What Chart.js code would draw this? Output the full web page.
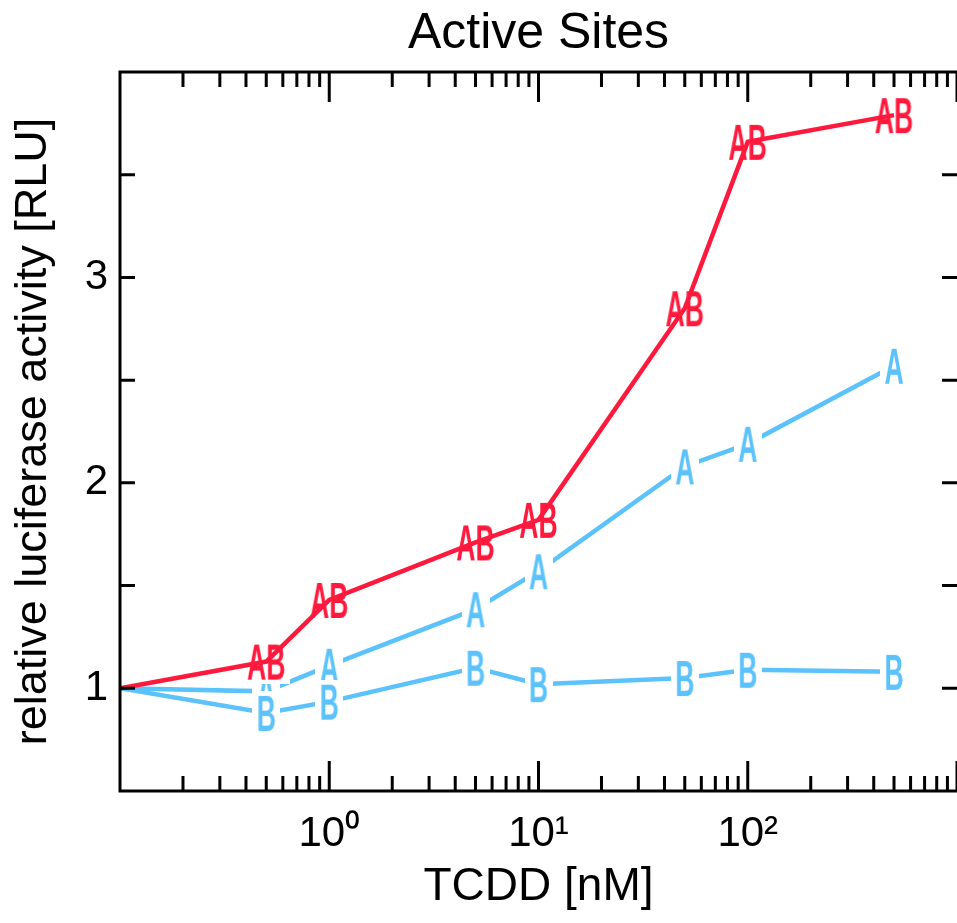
<!DOCTYPE html>
<html>
<head>
<meta charset="utf-8">
<title>Active Sites</title>
<script src="https://cdn.jsdelivr.net/npm/chart.js@4"></script>
<style>
    html, body { margin: 0; padding: 0; background: #fff; overflow: hidden; }
    #wrap { width: 957px; height: 923px; position: relative; }
    #activeChart { display: block; }
</style>
</head>
<body>
<div id="wrap"><canvas id="activeChart"></canvas></div>
<script>
// TCDD doses [nM]
var doses = [0.1, 0.5, 1, 5, 10, 50, 100, 500];
// relative luciferase activity per construct
var siteAB = [1, 1.13, 1.43, 1.71, 1.82, 2.85, 3.66, 3.79];
var siteA = [1, 0.985, 1.11, 1.385, 1.57, 2.08, 2.19, 2.57];
var siteB = [1, 0.88, 0.935, 1.10, 1.02, 1.05, 1.09, 1.08];

var xTickValues = [1, 10, 100];
var xTickLabels = ['10\u2070', '10\u00b9', '10\u00b2'];
var yTickValues = [1, 2, 3];
var yTickLabels = ['1', '2', '3'];

var red = '#ff1a3d';
var blue = '#5bc2fb';
var fontFamily = '"Liberation Sans", Arial, Helvetica, sans-serif';

function points(values) {
    return doses.map(function(d, i) {
        return { x: d, y: values[i] };
    });
}

// letter marker with a white box behind it
function makeMarker(text, color) {
    var size = 50, squeeze = 0.53, pad = 4;
    var capH = size * 0.716;
    var c = document.createElement('canvas');
    var g = c.getContext('2d');
    g.font = 'bold ' + size + 'px ' + fontFamily;
    var w = g.measureText(text).width * squeeze;
    c.width = Math.ceil(w + pad * 2);
    c.height = Math.ceil(capH + pad * 2);
    g.fillStyle = '#fff';
    g.fillRect(0, 0, c.width, c.height);
    g.font = 'bold ' + size + 'px ' + fontFamily;
    g.fillStyle = color;
    g.textAlign = 'center';
    g.textBaseline = 'alphabetic';
    g.translate(c.width / 2, pad + capH);
    g.scale(squeeze, 1);
    g.fillText(text, 0, 0);
    return c;
}

function markerRadius(ctx) {
    return ctx.dataIndex === 0 ? 0 : 8;
}

// frame and inward ticks
var framePlugin = {
    id: 'frame',
    afterDatasetsDraw: function(chart) {
        var a = chart.chartArea;
        var ctx = chart.ctx;
        var xs = chart.scales.x, ys = chart.scales.y;
        ctx.save();
        ctx.strokeStyle = '#000';
        ctx.lineWidth = 3;
        ctx.lineCap = 'butt';
        ctx.beginPath();
        ctx.moveTo(a.left, a.top);
        ctx.lineTo(a.right + 2, a.top);
        ctx.moveTo(a.left, a.top - 1.5);
        ctx.lineTo(a.left, a.bottom + 1.5);
        ctx.moveTo(a.left, a.bottom);
        ctx.lineTo(a.right + 2, a.bottom);
        ctx.moveTo(a.right + 2, a.top);
        ctx.lineTo(a.right + 2, a.bottom);

        xs.ticks.forEach(function(t) {
            var px = xs.getPixelForValue(t.value);
            var lg = Math.log10(t.value);
            var len = Math.abs(lg - Math.round(lg)) < 1e-6 ? 30 : 15;
            ctx.moveTo(px, a.bottom);
            ctx.lineTo(px, a.bottom - len);
            ctx.moveTo(px, a.top);
            ctx.lineTo(px, a.top + len);
        });
        ys.ticks.forEach(function(t) {
            var py = ys.getPixelForValue(t.value);
            ctx.moveTo(a.left, py);
            ctx.lineTo(a.left + 15, py);
            ctx.moveTo(a.right, py);
            ctx.lineTo(a.right - 15, py);
        });
        ctx.stroke();
        ctx.restore();
    }
};

var ctx = document.getElementById('activeChart').getContext('2d');
new Chart(ctx, {
    type: 'line',
    data: {
        datasets: [{
            label: 'A',
            data: points(siteA),
            borderColor: blue,
            borderWidth: 4.5,
            tension: 0,
            pointStyle: makeMarker('A', blue),
            pointRadius: markerRadius,
            order: 4
        }, {
            label: 'B',
            data: points(siteB),
            borderColor: blue,
            borderWidth: 4.5,
            tension: 0,
            pointStyle: makeMarker('B', blue),
            pointRadius: markerRadius,
            order: 3
        }, {
            label: 'AB markers',
            data: points(siteAB),
            showLine: false,
            pointStyle: makeMarker('AB', red),
            pointRadius: markerRadius,
            order: 2
        }, {
            label: 'AB',
            data: points(siteAB),
            borderColor: red,
            borderWidth: 4.5,
            tension: 0,
            pointRadius: 0,
            order: 1
        }]
    },
    options: {
        responsive: true,
        maintainAspectRatio: false,
        animation: false,
        layout: { padding: 0, autoPadding: false },
        plugins: {
            legend: { display: false },
            tooltip: { enabled: false },
            title: {
                display: true,
                fullSize: false,
                text: 'Active Sites',
                color: '#000',
                font: { family: fontFamily, size: 50, weight: 'normal', lineHeight: 1.2 },
                padding: { top: 4, bottom: 8 }
            }
        },
        scales: {
            x: {
                type: 'logarithmic',
                min: 0.1,
                max: 1000,
                // tick marks are drawn by the frame plugin; tickLength only spaces the labels
                grid: { display: false, drawTicks: true, tickLength: 18 },
                border: { display: false },
                afterBuildTicks: function(scale) {
                    var t = [];
                    for (var e = -1; e <= 2; e++) {
                        for (var k = 1; k <= 9; k++) {
                            t.push({ value: k * Math.pow(10, e) });
                        }
                    }
                    t.push({ value: 1000 });
                    scale.ticks = t;
                },
                afterFit: function(scale) {
                    scale.height = 132;
                    // plot runs to the right edge of the picture
                    scale.paddingLeft = 0;
                    scale.paddingRight = 0;
                },
                ticks: {
                    autoSkip: false,
                    maxRotation: 0,
                    minRotation: 0,
                    padding: 0,
                    color: '#000',
                    font: { family: fontFamily, size: 42 },
                    callback: function(value) {
                        for (var i = 0; i < xTickValues.length; i++) {
                            if (Math.abs(value - xTickValues[i]) < 1e-9) return xTickLabels[i];
                        }
                        return '';
                    }
                },
                title: {
                    display: true,
                    text: 'TCDD [nM]',
                    color: '#000',
                    font: { family: fontFamily, size: 46, lineHeight: 1.2 },
                    padding: { top: 0, bottom: 8 }
                }
            },
            y: {
                type: 'linear',
                min: 0.5,
                max: 4,
                grid: { display: false, drawTicks: false },
                border: { display: false },
                afterFit: function(scale) { scale.width = 120; },
                ticks: {
                    stepSize: 0.5,
                    autoSkip: false,
                    padding: 12,
                    color: '#000',
                    font: { family: fontFamily, size: 42 },
                    callback: function(value) {
                        var i = yTickValues.indexOf(value);
                        return i >= 0 ? yTickLabels[i] : '';
                    }
                },
                title: {
                    display: true,
                    text: 'relative luciferase activity [RLU]',
                    color: '#000',
                    font: { family: fontFamily, size: 45, lineHeight: 1.2 },
                    padding: { top: 7, bottom: 0 }
                }
            }
        }
    },
    plugins: [framePlugin]
});
</script>
</body>
</html>
